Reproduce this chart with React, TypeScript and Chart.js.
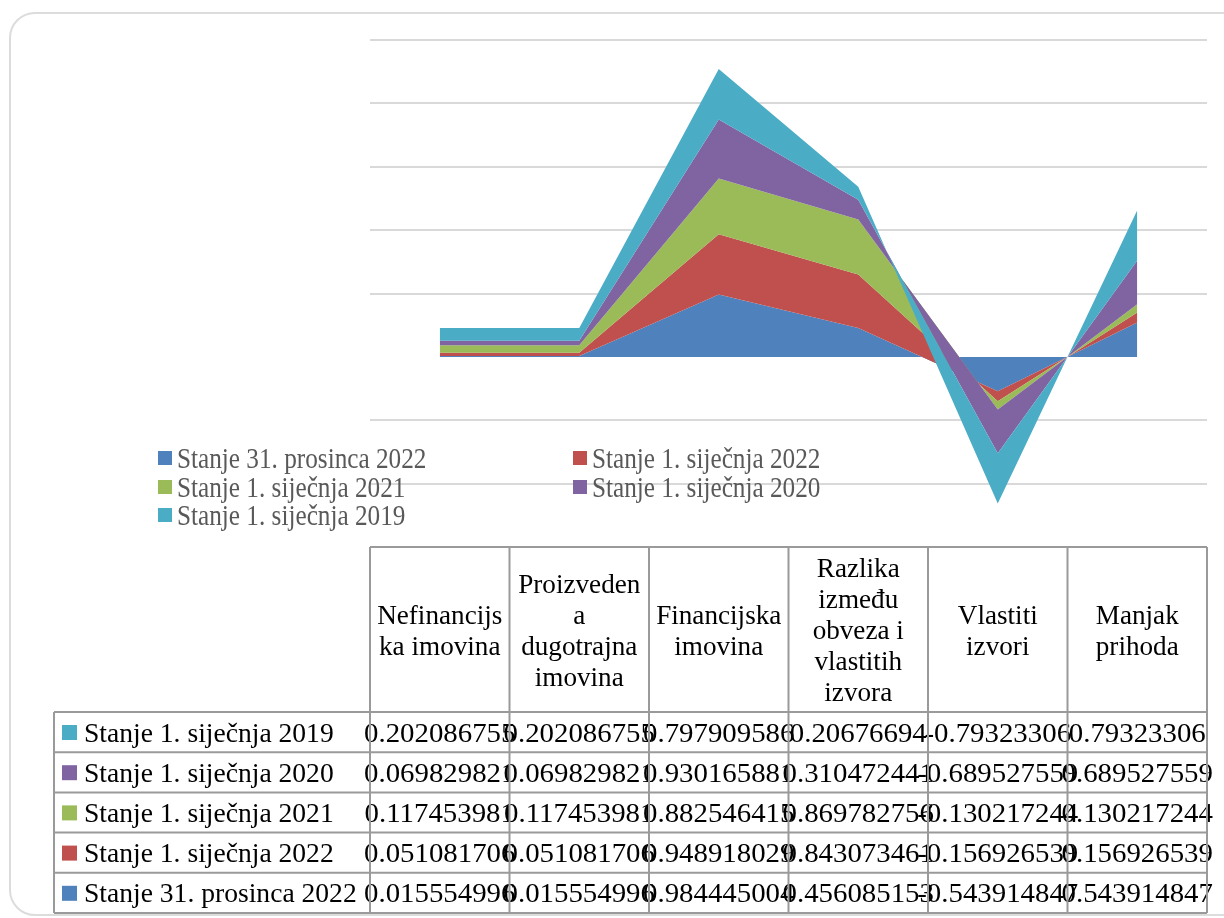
import React, { useEffect, useRef } from "react";
import { Chart, registerables } from "chart.js";

Chart.register(...registerables);

// ---- data ----
const categories = [
  "Nefinancijska imovina",
  "Proizvedena dugotrajna imovina",
  "Financijska imovina",
  "Razlika između obveza i vlastitih izvora",
  "Vlastiti izvori",
  "Manjak prihoda",
];
// wrapped header lines as they appear in the data table
const headerLines = [
  ["Nefinancijs", "ka imovina"],
  ["Proizveden", "a", "dugotrajna", "imovina"],
  ["Financijska", "imovina"],
  ["Razlika", "između", "obveza i", "vlastitih", "izvora"],
  ["Vlastiti", "izvori"],
  ["Manjak", "prihoda"],
];
const seriesLabels = [
  "Stanje 31. prosinca 2022",
  "Stanje 1. siječnja 2022",
  "Stanje 1. siječnja 2021",
  "Stanje 1. siječnja 2020",
  "Stanje 1. siječnja 2019",
];
const dec2022 = [0.015554996, 0.015554996, 0.984445004, 0.456085153, -0.543914847, 0.543914847];
const jan2022 = [0.051081706, 0.051081706, 0.948918029, 0.843073461, -0.156926539, 0.156926539];
const jan2021 = [0.117453981, 0.117453981, 0.882546415, 0.869782756, -0.130217244, 0.130217244];
const jan2020 = [0.069829821, 0.069829821, 0.930165881, 0.310472441, -0.689527559, 0.689527559];
const jan2019 = [0.202086755, 0.202086755, 0.797909586, 0.20676694, -0.79323306, 0.79323306];
const seriesValues = [dec2022, jan2022, jan2021, jan2020, jan2019];
const seriesColors = ["#4F81BD", "#C0504D", "#9BBB59", "#8064A2", "#4BACC6"];

// stacked-area tops (Excel stacking order: first series at the bottom, drawn first)
const stackedTops = seriesValues.map((_, i) =>
  categories.map((_, j) => seriesValues.slice(0, i + 1).reduce((s, arr) => s + arr[j], 0))
);

const FONT = '"Liberation Serif", "Times New Roman", serif';

function drawScaledText(
  ctx: CanvasRenderingContext2D,
  text: string,
  x: number,
  y: number,
  sx: number,
  align: CanvasTextAlign
) {
  ctx.save();
  ctx.translate(x, y);
  ctx.scale(sx, 1);
  ctx.textAlign = align;
  ctx.textBaseline = "alphabetic";
  ctx.fillText(text, 0, 0);
  ctx.restore();
}

const legendPlugin = {
  id: "customLegend",
  afterDraw(chart: any) {
    const ctx: CanvasRenderingContext2D = chart.ctx;
    const colX = [158, 573];
    const rowY = [458, 487, 515];
    ctx.save();
    ctx.font = `29px ${FONT}`;
    chart.data.datasets.forEach((ds: any, i: number) => {
      const c = i % 2;
      const r = Math.floor(i / 2);
      const x = colX[c];
      const y = rowY[r];
      ctx.fillStyle = ds.backgroundColor;
      ctx.fillRect(x, y - 7, 14, 14);
      ctx.fillStyle = "#595959";
      drawScaledText(ctx, ds.label, x + 19, y + 9.5, 0.87, "left");
    });
    ctx.restore();
  },
};

const tablePlugin = {
  id: "dataTable",
  afterDraw(chart: any) {
    const ctx: CanvasRenderingContext2D = chart.ctx;
    const xs = chart.scales.x;
    const area = chart.chartArea;
    const n = chart.data.labels.length;
    const band = (area.right - area.left) / n;
    const top = area.bottom;
    const headerBottom = top + 165;
    const rowH = 40.2;
    const labelLeft = 54;
    const datasets = chart.data.datasets;
    const rows = datasets.map((_: any, i: number) => datasets.length - 1 - i);
    const tableBottom = headerBottom + rowH * rows.length;

    ctx.save();
    // header texts
    ctx.fillStyle = "#000";
    ctx.font = `28px ${FONT}`;
    const headerMid = (top + headerBottom) / 2;
    for (let i = 0; i < n; i++) {
      const cx = xs.getPixelForValue(i);
      const lines = headerLines[i];
      const lh = 31;
      const start = headerMid - ((lines.length - 1) * lh) / 2;
      lines.forEach((ln, k) => {
        drawScaledText(ctx, ln, cx, start + k * lh + 9.5, 0.97, "center");
      });
    }
    // data rows
    rows.forEach((di: number, r: number) => {
      const ds = datasets[di];
      const rt = headerBottom + r * rowH;
      const base = rt + 29.5;
      ctx.fillStyle = ds.backgroundColor;
      ctx.fillRect(62, rt + 13, 15, 15);
      ctx.fillStyle = "#000";
      ctx.font = `28px ${FONT}`;
      drawScaledText(ctx, ds.label, 84, base, 0.985, "left");
      seriesValues[di].forEach((v: number, i: number) => {
        const cx = xs.getPixelForValue(i);
        drawScaledText(ctx, String(v), cx, base, 1.03, "center");
      });
    });

    // borders
    ctx.strokeStyle = "#9a9a9a";
    ctx.lineWidth = 2;
    ctx.beginPath();
    ctx.moveTo(area.left, top);
    ctx.lineTo(area.right, top);
    for (let i = 0; i <= n; i++) {
      const bx = i < n ? xs.getPixelForValue(i) - band / 2 : xs.getPixelForValue(n - 1) + band / 2;
      ctx.moveTo(bx, top);
      ctx.lineTo(bx, tableBottom);
    }
    for (let r = 0; r <= rows.length; r++) {
      const ry = headerBottom + r * rowH;
      ctx.moveTo(labelLeft, ry);
      ctx.lineTo(area.right, ry);
    }
    ctx.moveTo(labelLeft, headerBottom);
    ctx.lineTo(labelLeft, tableBottom);
    ctx.stroke();
    ctx.restore();
  },
};

export default function App() {
  const canvasRef = useRef<HTMLCanvasElement | null>(null);

  useEffect(() => {
    if (!canvasRef.current) return;
    const chart = new Chart(canvasRef.current, {
      type: "line",
      data: {
        labels: categories,
        datasets: seriesLabels.map((label, i) => ({
          label,
          data: stackedTops[i],
          backgroundColor: seriesColors[i],
          borderColor: "rgba(0,0,0,0)",
          borderWidth: 0,
          pointRadius: 0,
          pointHoverRadius: 0,
          fill: i === 0 ? "origin" : "-1",
          tension: 0,
          // first series drawn first (bottom of z-order), last series on top, like Excel
          order: seriesLabels.length - i,
        })),
      },
      options: {
        animation: false,
        responsive: false,
        devicePixelRatio: 1,
        layout: { padding: { left: 370, right: 17, top: 40, bottom: 371 } },
        plugins: {
          legend: { display: false },
          tooltip: { enabled: false },
          title: { display: false },
        },
        scales: {
          x: {
            display: false,
            offset: true,
          },
          y: {
            min: -3,
            max: 5,
            ticks: { display: false, stepSize: 1 },
            border: { display: false },
            grid: {
              drawTicks: false,
              lineWidth: 2,
              color: (c: any) => (c.tick && c.tick.value === 0 ? "rgba(0,0,0,0)" : "#d9d9d9"),
            },
          },
        },
      },
      plugins: [legendPlugin, tablePlugin],
    });
    return () => chart.destroy();
  }, []);

  return (
    <div
      style={{
        position: "absolute",
        left: 0,
        top: 0,
        width: 1224,
        height: 918,
        overflow: "hidden",
        background: "#fff",
      }}
    >
      <div
        style={{
          position: "absolute",
          left: 9,
          top: 12,
          width: 1240,
          height: 904,
          border: "2px solid #dcdcdc",
          borderRadius: 26,
          boxSizing: "border-box",
        }}
      />
      <canvas
        ref={canvasRef}
        width={1224}
        height={918}
        style={{ position: "absolute", left: 0, top: 0, width: 1224, height: 918 }}
      />
    </div>
  );
}
